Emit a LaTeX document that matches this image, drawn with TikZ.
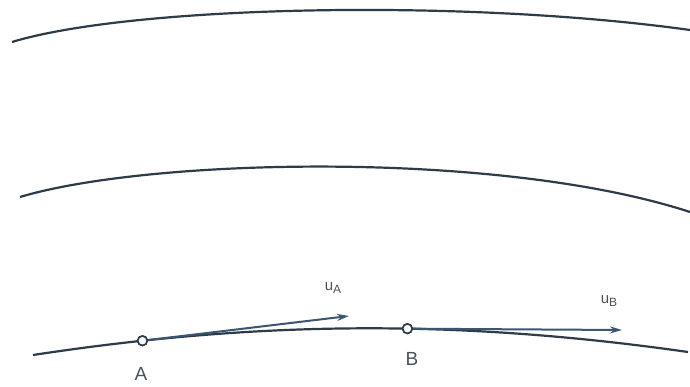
\documentclass[tikz,border=0pt]{standalone}
\usepackage{fontspec}
\setmainfont{Liberation Sans}
\usetikzlibrary{arrows.meta}
\definecolor{ink}{HTML}{2E3B48}
\definecolor{arrowink}{HTML}{3A5670}
\definecolor{labelink}{HTML}{4A525A}
\begin{document}
\begin{tikzpicture}[x=1pt,y=-1pt,
  streamline/.style={draw=ink,line width=2.2pt},
  pointmark/.style={circle,draw=ink,fill=white,line width=1.6pt,minimum size=9.5pt,inner sep=0pt},
  velocity/.style={draw=arrowink,line width=2pt,-{Stealth[length=12pt,width=7pt]}},
  ptlabel/.style={text=labelink,font=\fontsize{19}{22}\selectfont},
  vlabel/.style={text=labelink,font=\fontsize{15}{17}\selectfont}]
\useasboundingbox (0,0) rectangle (690,387);
% streamlines
\draw[streamline] (12,42) .. controls (130,6) and (460,-2) .. (690,30);
\draw[streamline] (20,197) .. controls (150,158) and (500,150) .. (690,212);
\path (33,355) .. controls (250,322) and (450,318) .. (688,352)
  node[pos=0.17,pointmark] (A) {}
  node[pos=0.585,pointmark] (B) {};
\draw[streamline] (33,355) .. controls (250,322) and (450,318) .. (688,352);
% velocity vectors
\coordinate (tipA) at (349,316);
\coordinate (tipB) at (622,330);
\draw[velocity] (A.center) -- (tipA);
\draw[velocity] (B.center) -- (tipB);
% points drawn on top
\node[pointmark] at (A) {};
\node[pointmark] at (B) {};
% labels
\node[ptlabel] (labA) at (141,374) {A};
\node[ptlabel] (labB) at (412,359) {B};
\node[vlabel] (labuA) at (333,288) {u\raisebox{-3pt}{\fontsize{12}{14}\selectfont A}};
\node[vlabel] (labuB) at (609,301) {u\raisebox{-3pt}{\fontsize{12}{14}\selectfont B}};
\end{tikzpicture}
\end{document}
